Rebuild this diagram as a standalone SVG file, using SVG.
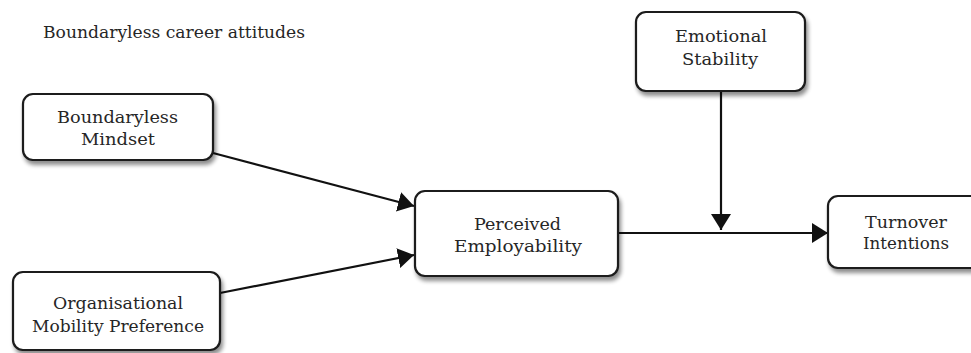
<svg xmlns="http://www.w3.org/2000/svg" width="971" height="353" viewBox="0 0 971 353">
<style>
.box{fill:#ffffff;stroke:#1a1a1a;stroke-width:2.2;filter:url(#sh)}
text{font-family:'DejaVu Serif','Liberation Serif',serif;font-size:16px;fill:#262626}
.c{stroke:#111;stroke-width:2.2;fill:none;marker-end:url(#ah)}
</style>
<defs>
<filter id="sh" x="-10%" y="-10%" width="130%" height="140%">
<feGaussianBlur in="SourceAlpha" stdDeviation="2"/>
<feOffset dx="2" dy="4" result="b"/>
<feComponentTransfer><feFuncA type="linear" slope="0.45"/></feComponentTransfer>
<feMerge><feMergeNode/><feMergeNode in="SourceGraphic"/></feMerge>
</filter>
<marker id="ah" markerUnits="userSpaceOnUse" markerWidth="18" markerHeight="22" refX="16" refY="10" orient="auto">
<path d="M0,0 L16,10 L0,20 Z" fill="#111"/>
</marker>
</defs>
<text x="43" y="38" textLength="262" lengthAdjust="spacingAndGlyphs">Boundaryless career attitudes</text>
<g id="connectors">
<line class="c" x1="213" y1="153" x2="414" y2="206"/>
<line class="c" x1="220" y1="293" x2="414" y2="255"/>
<line class="c" x1="618" y1="233" x2="828" y2="233"/>
<line class="c" x1="721" y1="91" x2="721" y2="230"/>
</g>
<g id="boundaryless-mindset">
<rect class="box" x="23" y="94" width="190" height="66" rx="10"/>
<text x="57" y="123" textLength="121" lengthAdjust="spacingAndGlyphs">Boundaryless</text>
<text x="81" y="145" textLength="74" lengthAdjust="spacingAndGlyphs">Mindset</text>
</g>
<g id="organisational-mobility-preference">
<rect class="box" x="13" y="272" width="207" height="78" rx="10"/>
<text x="53" y="309" textLength="130" lengthAdjust="spacingAndGlyphs">Organisational</text>
<text x="32" y="332" textLength="172" lengthAdjust="spacingAndGlyphs">Mobility Preference</text>
</g>
<g id="perceived-employability">
<rect class="box" x="415" y="191" width="203" height="85" rx="10"/>
<text x="474" y="230" textLength="87" lengthAdjust="spacingAndGlyphs">Perceived</text>
<text x="454" y="252" textLength="128" lengthAdjust="spacingAndGlyphs">Employability</text>
</g>
<g id="emotional-stability">
<rect class="box" x="636" y="12" width="169" height="79" rx="10"/>
<text x="675" y="42" textLength="92" lengthAdjust="spacingAndGlyphs">Emotional</text>
<text x="682" y="65" textLength="76" lengthAdjust="spacingAndGlyphs">Stability</text>
</g>
<g id="turnover-intentions">
<rect class="box" x="828" y="196" width="170" height="72" rx="10"/>
<text x="865" y="228" textLength="82" lengthAdjust="spacingAndGlyphs">Turnover</text>
<text x="863" y="249" textLength="86" lengthAdjust="spacingAndGlyphs">Intentions</text>
</g>
</svg>
